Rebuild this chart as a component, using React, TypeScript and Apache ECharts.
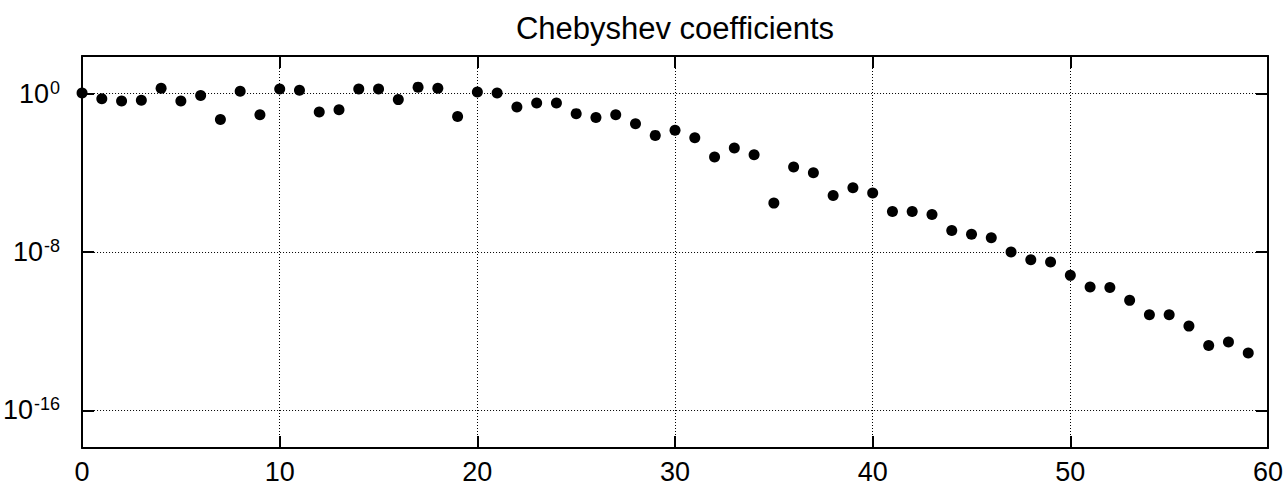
import React, { useEffect, useRef } from "react";
import * as echarts from "echarts";

// Chebyshev coefficient index (0..59)
const indices: number[] = Array.from({ length: 60 }, (_, i) => i);

// |a_k| magnitudes
const coefficients: number[] = [
  1.07, 0.56, 0.43, 0.46, 1.9, 0.43, 0.81, 0.049, 1.32, 0.087,
  1.7, 1.48, 0.117, 0.155, 1.7, 1.7, 0.5, 2.14, 1.9, 0.071,
  1.2, 1.07, 0.21, 0.34, 0.34, 0.098, 0.062, 0.087, 0.03, 0.0078,
  0.014, 0.006, 6.3e-4, 1.8e-3, 8.3e-4, 2.95e-6, 1.95e-4, 1.02e-4, 7.2e-6, 1.78e-5,
  9.5e-6, 1.12e-6, 1.12e-6, 7.8e-7, 1.23e-7, 7.8e-8, 5.2e-8, 1.0e-8, 4.1e-9, 3.1e-9,
  6.6e-10, 1.7e-10, 1.6e-10, 3.6e-11, 6.8e-12, 6.8e-12, 1.8e-12, 1.9e-13, 2.8e-13, 7.8e-14,
];

const yTickValues: number[] = [1e-16, 1e-8, 1];
const xTickInterval = 10;
const titleText = "Chebyshev coefficients";

const FONT = "'Liberation Sans', Arial, Helvetica, sans-serif";

export default function App() {
  const ref = useRef<HTMLDivElement>(null);

  useEffect(() => {
    if (!ref.current) return;
    const chart = echarts.init(ref.current, null, { renderer: "svg" });

    const axisLineStyle = { color: "#000", width: 2 };
    const dotted = { color: "#000", width: 1, type: [1, 2] as number[] };

    const yLabelFormatter = (v: number) => {
      const e = Math.round(Math.log10(v));
      return `{b|10}{s|${e}}`;
    };

    chart.setOption({
      animation: false,
      backgroundColor: "#fff",
      title: {
        text: titleText,
        left: 670,
        textAlign: "center",
        top: 8,
        textStyle: { fontFamily: FONT, fontSize: 31, fontWeight: "normal", color: "#000" },
      },
      grid: { left: 76, right: 19, top: 56, bottom: 36, containLabel: false },
      xAxis: [
        {
          type: "value",
          min: 0,
          max: 60,
          interval: xTickInterval,
          position: "bottom",
          axisLine: { show: true, onZero: false, lineStyle: axisLineStyle },
          axisTick: { show: true, inside: true, length: 12, lineStyle: axisLineStyle },
          axisLabel: { fontFamily: FONT, fontSize: 27, color: "#000", margin: 10 },
          splitLine: { show: true, lineStyle: dotted },
        },
        {
          type: "value",
          min: 0,
          max: 60,
          interval: xTickInterval,
          position: "top",
          axisLine: { show: true, onZero: false, lineStyle: axisLineStyle },
          axisTick: { show: true, inside: true, length: 12, lineStyle: axisLineStyle },
          axisLabel: { show: false },
          splitLine: { show: false },
        },
      ],
      yAxis: [
        {
          type: "log",
          logBase: 10,
          min: 1.25e-18,
          max: 80,
          position: "left",
          axisLine: { show: true, onZero: false, lineStyle: axisLineStyle },
          axisTick: { show: true, inside: true, length: 12, lineStyle: axisLineStyle, customValues: yTickValues },
          axisLabel: {
            customValues: yTickValues,
            formatter: yLabelFormatter,
            margin: 22,
            rich: {
              b: { fontFamily: FONT, fontSize: 27, color: "#000", lineHeight: 30 },
              s: { fontFamily: FONT, fontSize: 18, color: "#000", verticalAlign: "top", lineHeight: 18, padding: [0, 0, 12, 1] },
            },
          },
          splitLine: { show: true, lineStyle: dotted },
          minorTick: { show: false },
          minorSplitLine: { show: false },
        },
        {
          type: "log",
          logBase: 10,
          min: 1.25e-18,
          max: 80,
          position: "right",
          axisLine: { show: true, onZero: false, lineStyle: axisLineStyle },
          axisTick: { show: true, inside: true, length: 12, lineStyle: axisLineStyle, customValues: yTickValues },
          axisLabel: { show: false, customValues: yTickValues },
          splitLine: { show: false },
        },
      ],
      series: [
        {
          type: "scatter",
          xAxisIndex: 0,
          yAxisIndex: 0,
          symbol: "circle",
          symbolSize: 11,
          clip: false,
          z: 10,
          itemStyle: { color: "#000", opacity: 1 },
          data: indices.map((k, i) => [k, coefficients[i]]),
        },
      ],
    });

    return () => chart.dispose();
  }, []);

  return (
    <div
      ref={ref}
      style={{ position: "fixed", left: 0, top: 0, width: 1287, height: 485, background: "#fff" }}
    />
  );
}
